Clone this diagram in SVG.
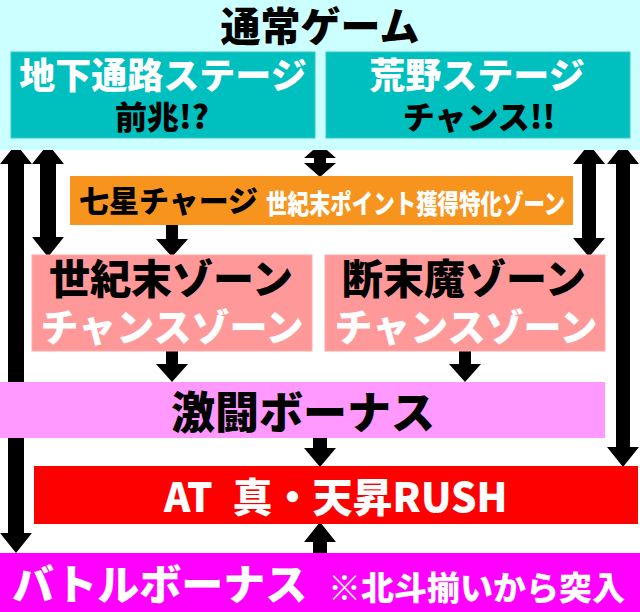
<svg xmlns="http://www.w3.org/2000/svg" width="640" height="612" viewBox="0 0 640 612">
<style>
text{font-family:"Noto Sans CJK JP","Noto Sans",sans-serif;font-weight:900}
.w{fill:#ffffff}
.k{fill:#000000}
.m{text-anchor:middle}
.arr{fill:#000000}
.teal{fill:#00bfbf;stroke:#3cc8c8;stroke-width:1}
.pink{fill:#ff9999;stroke:#ffaaaa;stroke-width:1}
</style>
<rect x="0" y="0" width="640" height="612" fill="#ffffff"/>
<g id="connectors">
<path class="arr" d="M16,144 L32,164 L24,164 L24,533 L32,533 L16,553 L0,533 L8,533 L8,164 L0,164 Z"/>
<path class="arr" d="M48,144 L64,164 L56,164 L56,237 L64,237 L48,257 L32,237 L40,237 L40,164 L32,164 Z"/>
<path class="arr" d="M320,144 L336,158 L326,158 L326,163 L336,163 L320,177 L304,163 L314,163 L314,158 L304,158 Z"/>
<path class="arr" d="M166,225 L178,225 L178,239 L188,239 L172,257 L156,239 L166,239 Z"/>
<path class="arr" d="M589,144 L605,164 L596,164 L596,238 L605,238 L589,257 L573,238 L582,238 L582,164 L573,164 Z"/>
<path class="arr" d="M623,144 L639,164 L630,164 L630,447 L639,447 L623,467 L607,447 L616,447 L616,164 L607,164 Z"/>
<path class="arr" d="M166,351 L178,351 L178,364 L188,364 L172,382 L156,364 L166,364 Z"/>
<path class="arr" d="M459,351 L471,351 L471,364 L481,364 L465,382 L449,364 L459,364 Z"/>
<path class="arr" d="M313,438 L327,438 L327,448 L336,448 L320,467 L304,448 L313,448 Z"/>
<path class="arr" d="M313,553 L313,542 L304,542 L320,522 L336,542 L327,542 L327,553 Z"/>
</g>
<g id="normal-game">
<rect x="0" y="0" width="640" height="150" fill="#ccffff"/>
<text class="k m" x="320" y="41" font-size="40">通常ゲーム</text>
</g>
<g id="underground-stage">
<rect class="teal" x="11" y="52" width="304" height="86"/>
<text class="w m" x="163" y="89" font-size="36">地下通路ステージ</text>
<text class="k m" x="162" y="129" font-size="32">前兆!?</text>
</g>
<g id="wasteland-stage">
<rect class="teal" x="326" y="52" width="304" height="86"/>
<text class="w m" x="477" y="89" font-size="36">荒野ステージ</text>
<text class="k m" x="479" y="129" font-size="32">チャンス!!</text>
</g>
<g id="shichisei-charge">
<rect x="70" y="176" width="503" height="49" fill="#f7941d"/>
<text class="k" x="79" y="212" font-size="30">七星チャージ</text>
<text class="w" transform="translate(266,214) scale(0.795,1)" x="0" y="0" font-size="27">世紀末ポイント獲得特化ゾーン</text>
</g>
<g id="seikimatsu-zone">
<rect class="pink" x="32" y="255" width="280" height="96"/>
<text class="k m" x="171" y="294" font-size="41">世紀末ゾーン</text>
<text class="w m" x="172" y="341" font-size="38">チャンスゾーン</text>
</g>
<g id="danmatsuma-zone">
<rect class="pink" x="325" y="255" width="280" height="96"/>
<text class="k m" x="464" y="294" font-size="41">断末魔ゾーン</text>
<text class="w m" x="466" y="341" font-size="38">チャンスゾーン</text>
</g>
<g id="gekito-bonus">
<rect x="0" y="382" width="605" height="56" fill="#ff99ff"/>
<text class="k m" x="303" y="429" font-size="44">激闘ボーナス</text>
</g>
<g id="at-rush">
<rect x="34" y="466" width="604" height="58" fill="#ff0000"/>
<text class="w" x="164" y="512" font-size="40">AT&#8194;真・天昇RUSH</text>
</g>
<g id="battle-bonus">
<rect x="0" y="553" width="640" height="59" fill="#ff00ff"/>
<text class="w" x="12" y="600" font-size="42">バトルボーナス</text>
<text class="w" x="328" y="600" font-size="33">※北斗揃いから突入</text>
</g>
</svg>
